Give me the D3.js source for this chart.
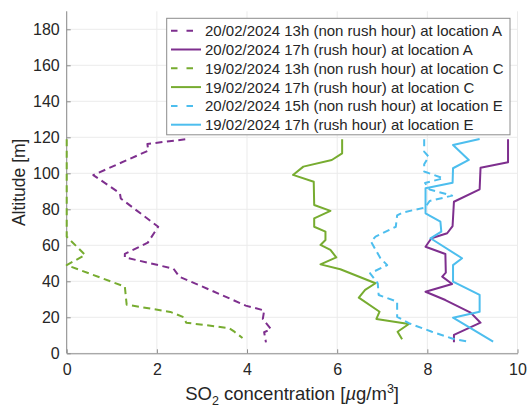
<!DOCTYPE html>
<html>
<head>
<meta charset="utf-8">
<script src="https://cdn.jsdelivr.net/npm/d3@7"></script>
<style>
  html, body { margin: 0; padding: 0; background: #fff; }
  svg { display: block; font-family: "Liberation Sans", Arial, Helvetica, sans-serif; }
</style>
</head>
<body>
<svg id="chart" width="527" height="407"></svg>
<script>
// SO2 vertical profiles: concentration [µg/m3] against altitude [m]
const xTicks = [0, 2, 4, 6, 8, 10];
const yTicks = [0, 20, 40, 60, 80, 100, 120, 140, 160, 180];

const seriesLabels = [
  "20/02/2024 13h (non rush hour) at location A",
  "20/02/2024 17h (rush hour) at location A",
  "19/02/2024 13h (non rush hour) at location C",
  "19/02/2024 17h (rush hour) at location C",
  "20/02/2024 15h (non rush hour) at location E",
  "19/02/2024 17h (rush hour) at location E"
];
const seriesColors = ["#7E2F8E", "#7E2F8E", "#77AC30", "#77AC30", "#4DBEEE", "#4DBEEE"];
const seriesDashed = [true, false, true, false, true, false];

// Location A, 13h
const so2A13 = [2.63, 1.79, 1.81, 0.59, 1.18, 1.20, 2.03, 1.80, 1.29, 1.29, 2.37, 2.50, 3.20, 3.97, 4.38, 4.35, 4.53, 4.38, 4.42];
const altA13 = [118.9, 116.3, 112.6, 99.0, 88.9, 86.0, 70.3, 61.5, 55.2, 53.3, 47.0, 42.5, 35.0, 26.5, 23.8, 19.0, 13.5, 11.7, 6.1];
// Location A, 17h
const so2A17 = [9.79, 9.79, 9.18, 9.16, 8.59, 8.56, 8.44, 8.09, 7.96, 8.40, 8.41, 8.33, 8.55, 7.96, 8.40, 8.96, 9.18, 8.59, 8.59];
const altA17 = [118.9, 106.1, 103.1, 91.1, 84.2, 70.7, 66.7, 63.9, 59.2, 55.2, 44.8, 42.6, 38.5, 34.2, 29.6, 22.6, 17.0, 10.2, 6.1];
// Location C, 13h
const so2C13 = [0.00, 0.00, 0.41, 0.00, 1.29, 1.33, 2.30, 2.60, 2.65, 3.60, 3.72, 3.90];
const altC13 = [118.9, 64.8, 54.6, 49.0, 37.0, 27.0, 23.0, 20.0, 17.0, 14.0, 12.0, 8.5];
// Location C, 17h
const so2C17 = [6.11, 6.11, 5.88, 5.25, 5.02, 5.48, 5.49, 5.85, 5.49, 5.49, 5.74, 5.74, 5.63, 5.85, 5.98, 5.63, 6.07, 6.85, 6.62, 6.48, 6.94, 6.87, 7.59, 7.34, 7.44];
const altC17 = [118.9, 111.1, 107.4, 103.7, 99.1, 95.3, 82.4, 79.1, 75.0, 70.3, 67.6, 62.9, 60.2, 57.4, 53.3, 49.4, 46.7, 38.9, 35.2, 30.9, 23.1, 19.1, 16.3, 12.0, 7.8];
// Location E, 15h
const so2E15 = [7.93, 7.93, 8.03, 7.93, 7.93, 8.35, 7.95, 8.05, 8.55, 8.05, 7.95, 7.45, 7.33, 7.30, 6.85, 6.75, 6.96, 7.11, 6.73, 6.90, 6.92, 7.33, 7.33, 7.59, 8.10, 8.55, 8.90, 8.93];
const altE15 = [118.9, 112.0, 109.2, 105.0, 101.0, 97.2, 94.6, 91.0, 87.6, 84.6, 81.0, 78.2, 76.6, 70.3, 64.8, 62.0, 52.8, 49.0, 44.4, 38.9, 32.4, 28.7, 20.3, 16.7, 12.0, 8.2, 6.5, 7.8];
// Location E, 17h
const so2E17 = [9.16, 8.57, 8.92, 8.57, 8.56, 7.96, 7.96, 8.29, 8.31, 8.07, 8.77, 8.57, 8.57, 9.16, 9.16, 8.57, 9.46];
const altE17 = [119.0, 115.7, 107.4, 102.8, 94.8, 91.7, 77.8, 73.1, 67.6, 63.9, 52.8, 49.0, 39.8, 32.4, 23.1, 19.8, 6.5];

const so2Series = [so2A13, so2A17, so2C13, so2C17, so2E15, so2E17];
const altSeries = [altA13, altA17, altC13, altC17, altE15, altE17];

const svg = d3.select("#chart");
const plotLeft = 66.7, plotRight = 517.5, plotTop = 11.3, plotBottom = 353.3;

const x = d3.scaleLinear().domain([0, 10]).range([plotLeft, plotRight]);
const y = d3.scaleLinear().domain([0, 190]).range([plotBottom, plotTop]);

const tickColor = "#262626";
const axisColor = "#8c8c8c";
const gridColor = "#ebebeb";

// grid
const grid = svg.append("g");
grid.selectAll("line.gx").data(xTicks).join("line")
  .attr("x1", d => x(d)).attr("x2", d => x(d))
  .attr("y1", plotTop).attr("y2", plotBottom)
  .attr("stroke", gridColor).attr("stroke-width", 1);
grid.selectAll("line.gy").data(yTicks).join("line")
  .attr("x1", plotLeft).attr("x2", plotRight)
  .attr("y1", d => y(d)).attr("y2", d => y(d))
  .attr("stroke", gridColor).attr("stroke-width", 1);

// axes with inward ticks
const xAxis = d3.axisBottom(x).tickValues(xTicks).tickSizeInner(-4).tickSizeOuter(0).tickPadding(9);
const yAxis = d3.axisLeft(y).tickValues(yTicks).tickSizeInner(-4).tickSizeOuter(0).tickPadding(7);

const gx = svg.append("g").attr("transform", `translate(0,${plotBottom})`).call(xAxis);
const gy = svg.append("g").attr("transform", `translate(${plotLeft},0)`).call(yAxis);
gy.select(".domain").attr("d", `M0,${plotBottom}V${plotTop}`);
[gx, gy].forEach(g => {
  g.select(".domain").attr("stroke", axisColor).attr("stroke-width", 1);
  g.selectAll(".tick line").attr("stroke", axisColor);
  g.selectAll(".tick text").attr("fill", tickColor)
    .style("font-size", "16px").style("font-family", "'Liberation Sans', Arial, sans-serif");
});
gx.selectAll(".tick text").attr("dy", "0.78em");

// profile lines
const line = d3.line().x(d => x(d[0])).y(d => y(d[1]));
const lines = svg.append("g");
so2Series.forEach((vals, i) => {
  const pts = vals.map((v, k) => [v, altSeries[i][k]]);
  lines.append("path")
    .datum(pts)
    .attr("d", line)
    .attr("fill", "none")
    .attr("stroke", seriesColors[i])
    .attr("stroke-width", 2)
    .attr("stroke-linejoin", "round")
    .attr("stroke-dasharray", seriesDashed[i] ? "7,4.5" : null);
});

// axis titles
const xt = svg.append("text")
  .attr("x", (plotLeft + plotRight) / 2).attr("y", 400)
  .attr("text-anchor", "middle").attr("fill", tickColor)
  .style("font-size", "18.5px");
xt.append("tspan").text("SO");
xt.append("tspan").attr("dy", 5).style("font-size", "12.5px").text("2");
xt.append("tspan").attr("dy", -5).text(" concentration [");
xt.append("tspan").style("font-style", "italic").text("\u00b5");
xt.append("tspan").text("g/m");
xt.append("tspan").attr("dy", -7).style("font-size", "12.5px").text("3");
xt.append("tspan").attr("dy", 7).text("]");

svg.append("text")
  .attr("transform", `translate(25,${(plotTop + plotBottom) / 2}) rotate(-90)`)
  .attr("text-anchor", "middle").attr("fill", tickColor)
  .style("font-size", "17.5px")
  .text("Altitude [m]");

// legend
const lg = svg.append("g");
const lgX = 166.7, lgY = 18.3, lgW = 343.3, lgH = 116.5, rowH = 18.8, row0 = 30.7;
lg.append("rect")
  .attr("x", lgX).attr("y", lgY).attr("width", lgW).attr("height", lgH)
  .attr("fill", "#fff").attr("stroke", "#8c8c8c").attr("stroke-width", 1);
seriesLabels.forEach((label, i) => {
  const cy = row0 + i * rowH;
  lg.append("line")
    .attr("x1", 171).attr("x2", 201).attr("y1", cy).attr("y2", cy)
    .attr("stroke", seriesColors[i]).attr("stroke-width", 2)
    .attr("stroke-dasharray", seriesDashed[i] ? "6.5,9" : null);
  lg.append("text")
    .attr("x", 205).attr("y", cy).attr("dy", "0.36em")
    .attr("fill", tickColor).style("font-size", "15px")
    .text(label);
});
</script>
</body>
</html>
